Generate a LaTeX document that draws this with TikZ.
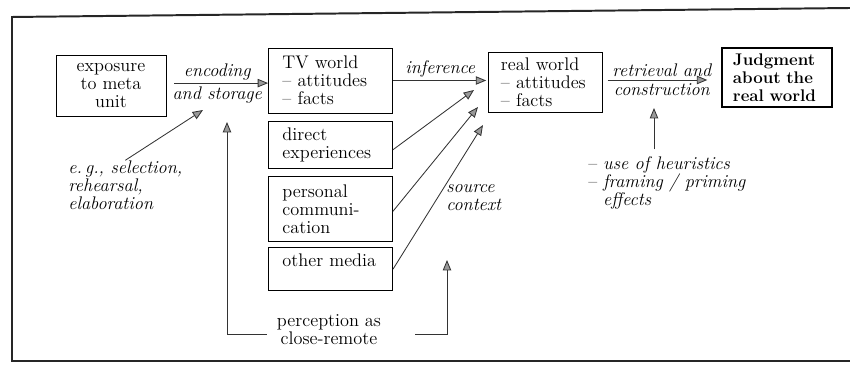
\documentclass[tikz,border=0pt]{standalone}
\usetikzlibrary{arrows.meta,positioning}
\begin{document}
\begin{tikzpicture}
	  [
	    x                   = 0.025cm,
	    y                   = -0.025cm,
	    every node/.style   = {font=\fontsize{13}{12.8}\selectfont, inner sep=0pt},
	    box/.style          = {draw, line width=0.6pt, inner xsep=0.35cm, align=left},
	    lab/.style          = {font=\fontsize{13}{12.8}\selectfont\itshape},
	    arr/.style          = {draw=black!80, line width=0.6pt,
	                           -{Triangle[length=2.6mm, width=2.1mm, fill=black!40]}},
	    node distance       = 0.18cm
	  ]
	  \useasboundingbox (0,0) rectangle (850,365);
	  % frame
	  \draw[line width=1.4pt, black!85] (850,8) -- (12,17) -- (12,361) -- (850,361);

	  % boxes
	  \node [box, align=center, inner xsep=0pt, minimum width=2.75cm, minimum height=1.525cm]
	    (expo) at (111,85.5) {exposure\\to meta\\unit};
	  \node [box, text width=2.4cm, minimum height=1.625cm]
	    (tvw) at (330.5,80.5) {TV world\\-- attitudes\\-- facts};
	  \node [box, text width=2.4cm, minimum height=1.175cm, below=of tvw]
	    (direct) {direct\\experiences};
	  \node [box, text width=2.4cm, minimum height=1.6cm, below=0.2cm of direct]
	    (pers) {personal\\communi-\\cation};
	  \node [box, text width=2.4cm, minimum height=1.075cm, below=0.15cm of pers]
	    (other) {other media\\\mbox{}};
	  \node [box, text width=2.2cm, inner xsep=0.325cm, minimum height=1.5cm]
	    (real) at (545,82) {real world\\-- attitudes\\-- facts};
	  \node [box, line width=1pt, text width=2.2cm, inner xsep=0.275cm, minimum height=1.475cm,
	         font=\fontsize{12}{12.8}\selectfont\bfseries]
	    (judg) at (777,77.5) {Judgment\\about the\\real world};

	  % side texts
	  \node [lab, align=left, anchor=west] (eg) at (68,185)
	    {e.\,g., selection,\\rehearsal,\\elaboration};
	  \node [lab, align=left, anchor=west] (src) at (446,198) {source\\context};
	  \node [align=left, anchor=west] (heur) at (588,183)
	    {-- \textit{use of heuristics}\\-- \textit{framing / priming}\\\phantom{-- }\textit{effects}};
	  \node [align=center, inner xsep=0.25cm] (perc) at (329,330) {perception as\\close-remote};

	  % free ends
	  \coordinate (encin) at (203,110);
	  \coordinate (encup) at (227,122);
	  \coordinate (srcup) at (447,260);
	  \coordinate (inf1)  at (474,90);
	  \coordinate (inf2)  at (478,107);
	  \coordinate (inf3)  at (483,125);
	  \coordinate (retup) at (654,108);

	  % main chain
	  \draw[arr, shorten <=2mm] ([yshift=0.6mm]expo.east) -- ([yshift=0.6mm]expo.east -| tvw.west)
	    node [lab, midway, above=1.5pt] {encoding}
	    node [lab, midway, below=2pt] {and storage};
	  \draw[arr, shorten >=1pt] (tvw.east) -- (tvw.east -| real.west)
	    node [lab, midway, above=2pt] {inference};
	  \draw[arr, shorten <=1.3mm, shorten >=3.5mm] ([yshift=0.5mm]real.east) -- ([yshift=0.5mm]real.east -| judg.west)
	    node [lab, midway, above=2pt] {retrieval and}
	    node [lab, midway, below=2pt] {construction};

	  % converging sources
	  \draw[arr] ([yshift=-1.3mm]direct.east) -- (inf1);
	  \draw[arr] ([yshift=-0.6mm]pers.east) -- (inf2);
	  \draw[arr] (other.east) -- (inf3);

	  % influences
	  \draw[arr] (eg.north) -- (encin);
	  \draw[arr] (heur.north -| retup) ++(0,-7) -- (retup);
	  \draw[arr] ([yshift=-1mm]perc.west) -| (encup);
	  \draw[arr] ([xshift=0.6cm, yshift=-1mm]perc.east) -| (srcup);
	\end{tikzpicture}
\end{document}
